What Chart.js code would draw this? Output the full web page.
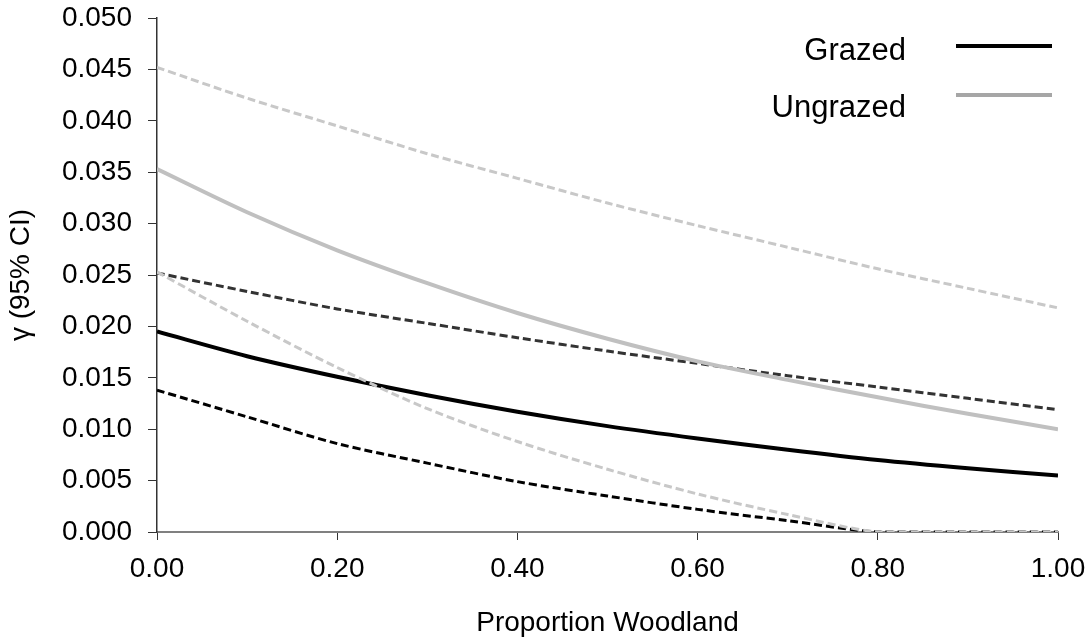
<!DOCTYPE html>
<html>
<head>
<meta charset="utf-8">
<script src="https://cdn.jsdelivr.net/npm/chart.js@4/dist/chart.umd.min.js"></script>
<style>
  html, body { margin: 0; padding: 0; background: #fff; }
  #wrap { width: 1091px; height: 642px; }
</style>
</head>
<body>
<div id="wrap"><canvas id="chart"></canvas></div>
<script>
// proportion woodland
const woodland = [0, 0.1, 0.2, 0.3, 0.4, 0.5, 0.6, 0.7, 0.8, 0.9, 1.0];

// grazed: fit and 95% CI
const grazed      = [0.0195, 0.0171, 0.0151, 0.0133, 0.0117, 0.0103, 0.0091, 0.0080, 0.0070, 0.0062, 0.0055];
const grazedUpper = [0.0252, 0.0234, 0.0217, 0.0203, 0.0189, 0.0176, 0.0164, 0.0152, 0.0141, 0.0130, 0.0119];
const grazedLower = [0.0138, 0.0112, 0.0086, 0.0067, 0.0049, 0.0035, 0.0022, 0.0011, 0.0000, 0.0000, 0.0000];

// ungrazed: fit and 95% CI
const ungrazed      = [0.0353, 0.0311, 0.0274, 0.0242, 0.0213, 0.0188, 0.0166, 0.0148, 0.0131, 0.0115, 0.0100];
const ungrazedUpper = [0.0452, 0.0422, 0.0395, 0.0368, 0.0344, 0.0320, 0.0298, 0.0277, 0.0256, 0.0237, 0.0218];
const ungrazedLower = [0.0253, 0.0205, 0.0160, 0.0120, 0.0088, 0.0061, 0.0037, 0.0017, 0.0000, 0.0000, 0.0000];

const legendItems = ['Grazed', 'Ungrazed'];

const toPoints = (ys) => ys.map((y, i) => ({ x: woodland[i], y: y }));

const line = (label, ys, color, width, dash) => ({
    label: label,
    data: toPoints(ys),
    borderColor: color,
    borderWidth: width,
    borderDash: dash || [],
    pointRadius: 0,
    tension: 0.3,
    fill: false
});

// legend drawn Excel style: text, then a line sample on its right
const sideLegend = {
    id: 'sideLegend',
    afterDraw(chart) {
        const ctx = chart.ctx;
        const colors = ['#000000', '#a6a6a6'];
        const rows = [{ text: 51, line: 46 }, { text: 108, line: 95 }];
        ctx.save();
        ctx.font = '31px "Liberation Sans", Arial, sans-serif';
        ctx.fillStyle = '#000';
        ctx.textAlign = 'right';
        ctx.textBaseline = 'middle';
        legendItems.forEach((name, i) => {
            ctx.fillText(name, 906, rows[i].text);
            ctx.strokeStyle = colors[i];
            ctx.lineWidth = 4;
            ctx.beginPath();
            ctx.moveTo(956, rows[i].line);
            ctx.lineTo(1052, rows[i].line);
            ctx.stroke();
        });
        ctx.restore();
    }
};

const tickFont = { family: '"Liberation Sans", Arial, sans-serif', size: 28 };

try {
    var ctx = document.getElementById('chart');
    if (ctx) {
        var myChart = new Chart(ctx, {
            type: 'line',
            data: {
                datasets: [
                    line('Ungrazed upper', ungrazedUpper, '#c8c8c8', 3, [8, 4]),
                    line('Ungrazed lower', ungrazedLower, '#c8c8c8', 3, [8, 4]),
                    line('Ungrazed', ungrazed, '#c0c0c0', 4),
                    line('Grazed upper', grazedUpper, '#333333', 3, [8, 4]),
                    line('Grazed lower', grazedLower, '#000000', 3, [8, 4]),
                    line('Grazed', grazed, '#000000', 4)
                ]
            },
            options: {
                responsive: true,
                maintainAspectRatio: false,
                animation: false,
                layout: { padding: { left: 0, right: 33, top: 18, bottom: 0 } },
                plugins: {
                    legend: { display: false },
                    tooltip: { enabled: false }
                },
                scales: {
                    x: {
                        type: 'linear',
                        min: 0,
                        max: 1,
                        afterFit: (s) => { s.height = 110; s.paddingLeft = 0; s.paddingRight = 0; },
                        border: { display: true, color: '#808080', width: 2 },
                        grid: { display: true, drawOnChartArea: false, drawTicks: true, tickLength: 8, color: '#333' },
                        ticks: {
                            stepSize: 0.2,
                            color: '#000',
                            font: tickFont,
                            padding: 12,
                            maxRotation: 0,
                            callback: (v) => v.toFixed(2)
                        },
                        title: {
                            display: true,
                            text: 'Proportion Woodland',
                            color: '#000',
                            font: tickFont,
                            padding: { top: 2, bottom: 2 }
                        }
                    },
                    y: {
                        min: 0,
                        max: 0.05,
                        afterFit: (s) => { s.width = 157; s.paddingTop = 0; s.paddingBottom = 0; },
                        border: { display: true, color: '#333', width: 1.5 },
                        grid: { display: true, drawOnChartArea: false, drawTicks: true, tickLength: 9, color: '#333' },
                        ticks: {
                            stepSize: 0.005,
                            color: '#000',
                            font: tickFont,
                            padding: 16,
                            callback: (v) => v.toFixed(3)
                        },
                        title: {
                            display: true,
                            text: 'γ (95% CI)',
                            color: '#000',
                            font: tickFont,
                            padding: { top: 4, bottom: 4 }
                        }
                    }
                }
            },
            plugins: [sideLegend]
        });
    }
} catch (error) {
    console.log(error);
}
</script>
</body>
</html>
